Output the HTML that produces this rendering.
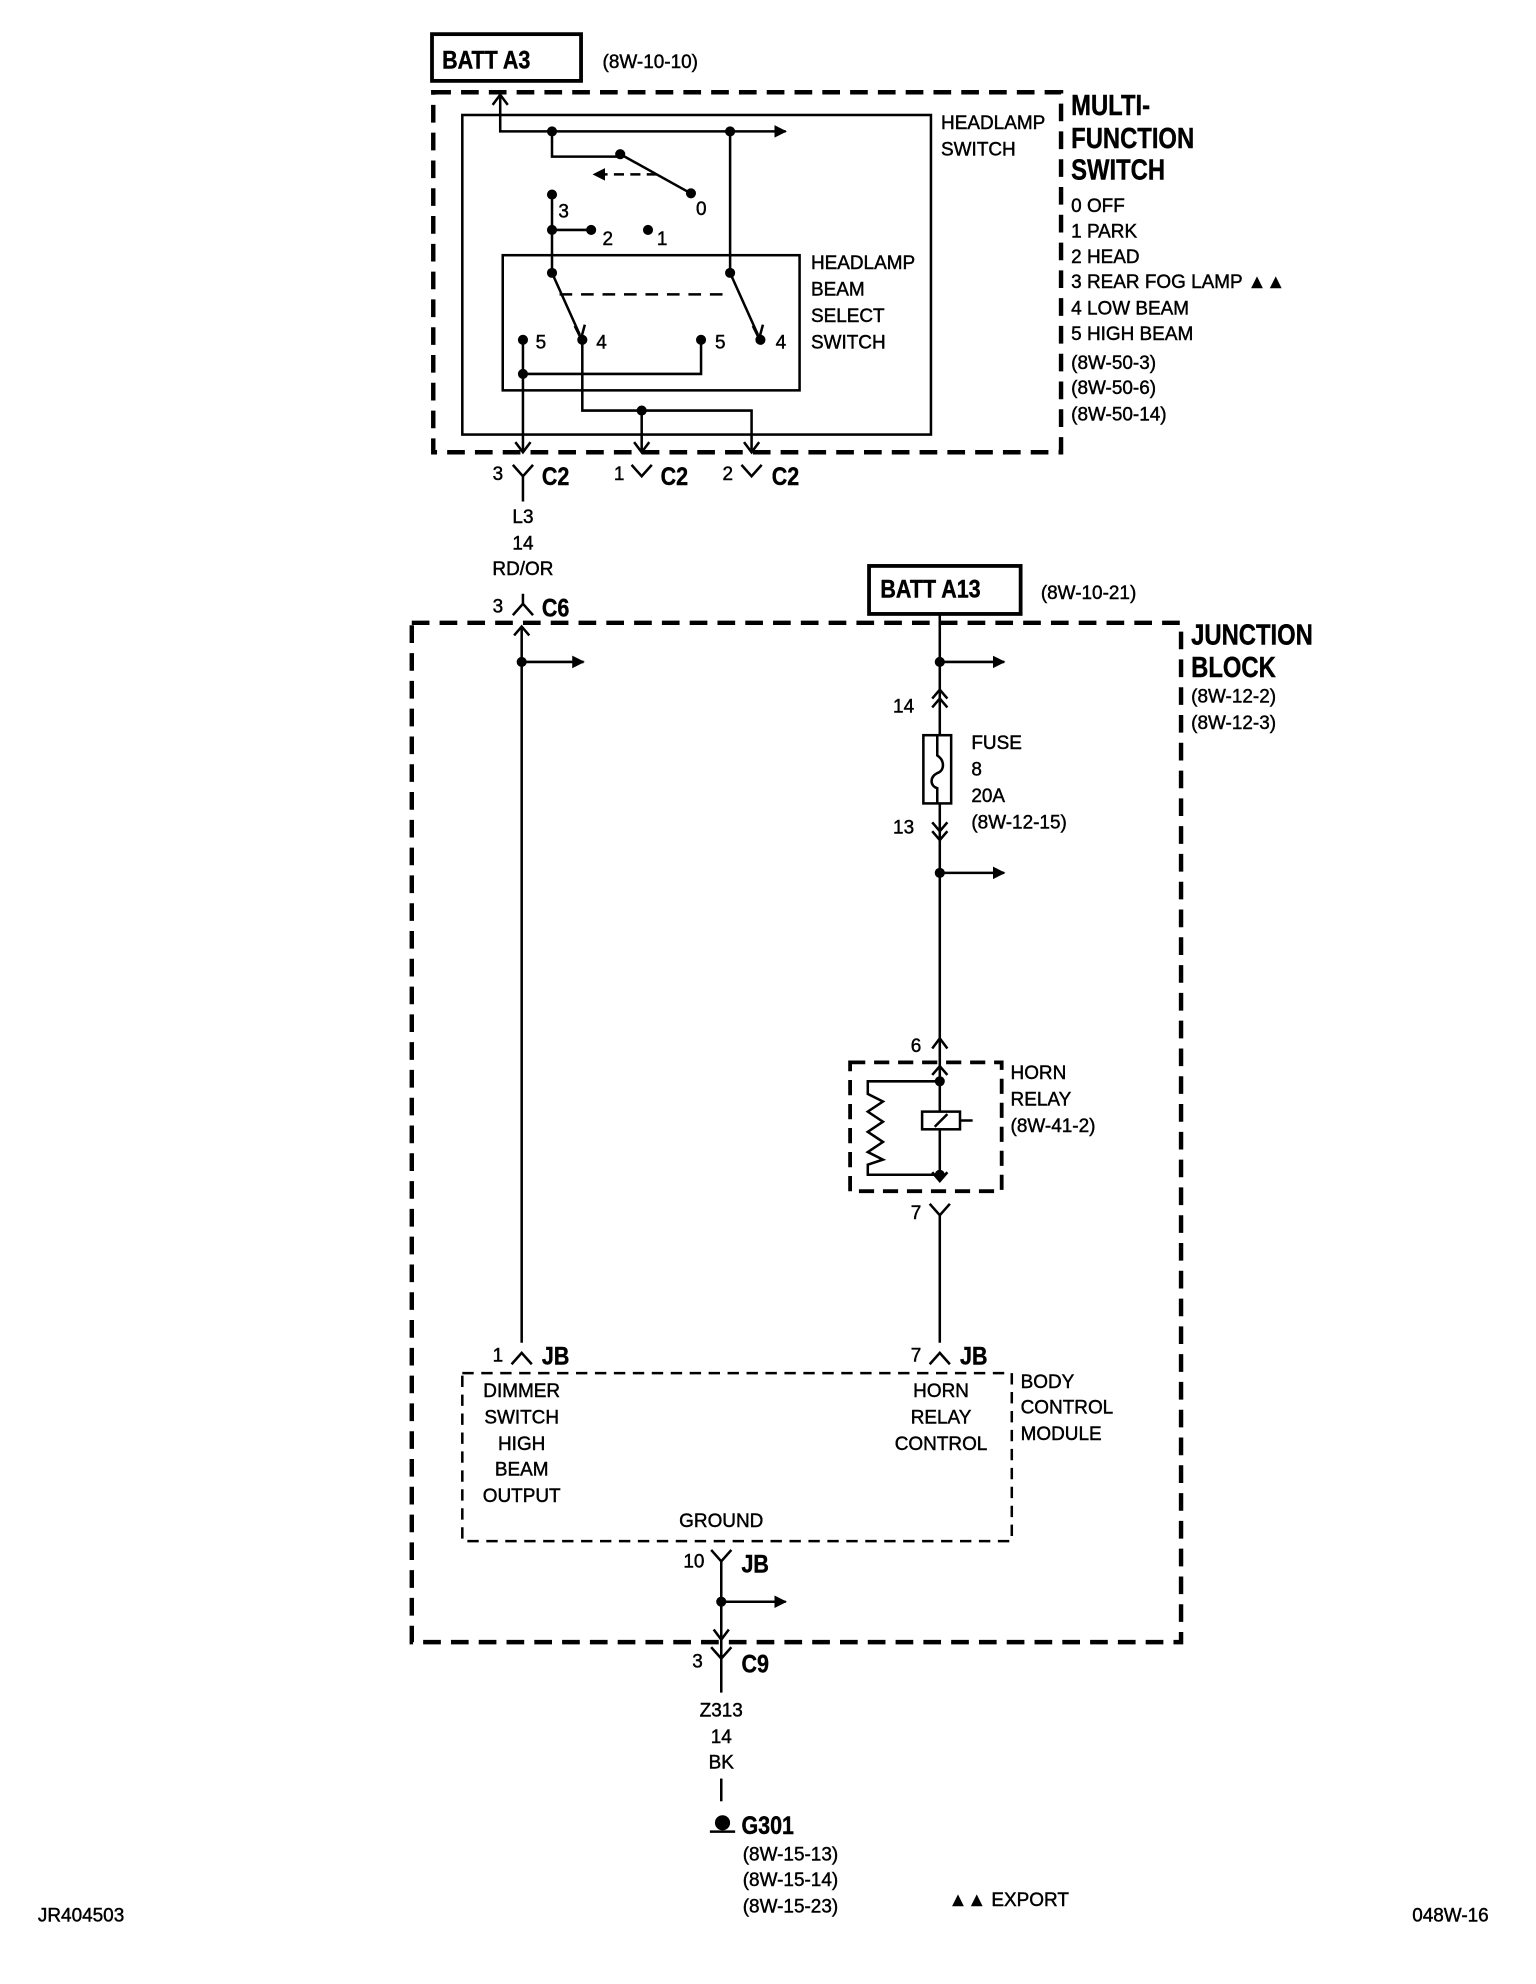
<!DOCTYPE html>
<html><head><meta charset="utf-8"><style>
html,body{margin:0;padding:0;background:#fff;}
svg{display:block;}
text{font-family:"Liberation Sans Narrow","Liberation Sans",sans-serif;fill:#000;font-size:15px;stroke:#000;stroke-width:0.35px;}
text.b{font-weight:bold;font-size:20px;}
text.t{font-weight:bold;font-size:23px;}
</style></head><body>
<svg width="1536" height="1984" viewBox="0 0 1216 1570.6" xmlns="http://www.w3.org/2000/svg">
<defs>
<marker id="ah" markerWidth="10" markerHeight="10" refX="9" refY="5" orient="auto" markerUnits="userSpaceOnUse"><path d="M0,0 L10,5 L0,10 Z" fill="#000"/></marker>
</defs>
<g fill="none" stroke="#000" stroke-width="2">
<rect x="342" y="27" width="118" height="37" stroke-width="3"/>
<rect x="343" y="73" width="497" height="285" stroke-width="3.5" stroke-dasharray="14,8"/>
<rect x="366" y="91" width="371" height="253"/>
<rect x="398" y="202" width="235" height="107"/>
<path d="M396,75 V104 H622" marker-end="url(#ah)"/>
<path d="M390,83 L396,75 L402,83"/>
<path d="M437,104 V124 H491"/>
<path d="M491,122 L545,152"/>
<path d="M520,138 H470" stroke-dasharray="8,5" marker-end="url(#ah)"/>
<path d="M578,104 V216"/>
<path d="M437,154 V216"/>
<path d="M437,182 H468"/>
<path d="M437,216 L459,265"/>
<path d="M578,216 L600,265"/>
<path d="M455,258 L460,268 L463,257"/>
<path d="M596,258 L601,268 L604,257"/>
<path d="M443,233 H578" stroke-dasharray="10,7"/>
<path d="M414,269 V358"/>
<path d="M414,296 H555 V269"/>
<path d="M461,269 V325 H595 V358"/>
<path d="M508,325 V358"/>
<path d="M408,350 L414,358 L420,350"/>
<path d="M502,350 L508,358 L514,350"/>
<path d="M589,350 L595,358 L601,350"/>
<path d="M406,368 L414,377 L422,368 M414,377 V397"/>
<path d="M500,368 L508,377 L516,368"/>
<path d="M587,368 L595,377 L603,368"/>
<path d="M414,470 V478 M406,487 L414,478 L422,487"/>
<rect x="326" y="493" width="609" height="807" stroke-width="3.5" stroke-dasharray="14,8"/>
<path d="M413,496 V1063"/>
<path d="M407,503 L413,496 L419,503"/>
<path d="M413,524 H462" marker-end="url(#ah)"/>
<rect x="688" y="448" width="120" height="38" stroke-width="3"/>
<path d="M744,486 V582 M744,636 V935"/>
<path d="M744,524 H795" marker-end="url(#ah)"/>
<path d="M738,553 L744,546 L750,553 M738,560 L744,553 L750,560"/>
<rect x="731" y="582" width="22" height="54"/>
<path d="M742,582 V598 C748,602 748,610 742,612 C736,615 736,622 742,624 V636"/>
<path d="M738,651 L744,658 L750,651 M738,658 L744,665 L750,658"/>
<path d="M744,691 H795" marker-end="url(#ah)"/>
<path d="M738,830 L744,822 L750,830"/>
<rect x="673" y="841" width="120" height="102" stroke-width="3" stroke-dasharray="12,7"/>
<path d="M738,851 L744,844 L750,851"/>
<path d="M744,856 H687 V866 L699,872 L687,880 L699,888 L687,896 L699,904 L687,912 L699,918 L687,922 V930 H744"/>
<rect x="730" y="880" width="30" height="14" fill="#fff"/>
<path d="M740,892 L750,882 M760,887 H770"/>
<path d="M738,928 L744,935 L750,928"/>
<path d="M736,953 L744,962 L752,953 M744,962 V1063"/>
<path d="M405,1080 L413,1071 L421,1080"/>
<path d="M736,1080 L744,1071 L752,1080"/>
<rect x="366" y="1087" width="435" height="133" stroke-dasharray="9,6"/>
<path d="M563,1227 L571,1236 L579,1227 M571,1236 V1340"/>
<path d="M571,1268 H622" marker-end="url(#ah)"/>
<path d="M565,1290 L571,1298 L577,1290"/>
<path d="M563,1304 L571,1313 L579,1304"/>
<path d="M571,1408 V1426"/>
<path d="M562,1450 H582"/>
</g>
<g fill="#000">
<circle cx="437" cy="104" r="4"/><circle cx="578" cy="104" r="4"/>
<circle cx="491" cy="122" r="4"/><circle cx="547" cy="153" r="4"/>
<circle cx="437" cy="154" r="4"/><circle cx="437" cy="182" r="4"/>
<circle cx="468" cy="182" r="4"/><circle cx="513" cy="182" r="4"/>
<circle cx="437" cy="216" r="4"/><circle cx="578" cy="216" r="4"/>
<circle cx="414" cy="269" r="4"/><circle cx="461" cy="269" r="4"/>
<circle cx="555" cy="269" r="4"/><circle cx="602" cy="269" r="4"/>
<circle cx="414" cy="296" r="4"/><circle cx="508" cy="325" r="4"/>
<circle cx="413" cy="524" r="4"/><circle cx="744" cy="524" r="4"/>
<circle cx="744" cy="691" r="4"/><circle cx="744" cy="856" r="4"/>
<circle cx="744" cy="930" r="4"/><circle cx="571" cy="1268" r="4"/>
<circle cx="572" cy="1443" r="6"/>
</g>
<text transform="translate(350,54) scale(0.85,1)" class="b">BATT A3</text>
<text x="477" y="54">(8W-10-10)</text>
<text x="745" y="102">HEADLAMP</text>
<text x="745" y="123">SWITCH</text>
<text transform="translate(848,91) scale(0.82,1)" class="t">MULTI-</text>
<text transform="translate(848,117) scale(0.82,1)" class="t">FUNCTION</text>
<text transform="translate(848,142) scale(0.82,1)" class="t">SWITCH</text>
<text x="848" y="168">0 OFF</text>
<text x="848" y="188">1 PARK</text>
<text x="848" y="208">2 HEAD</text>
<text x="848" y="228">3 REAR FOG LAMP ▲▲</text>
<text x="848" y="249">4 LOW BEAM</text>
<text x="848" y="269">5 HIGH BEAM</text>
<text x="848" y="292">(8W-50-3)</text>
<text x="848" y="312">(8W-50-6)</text>
<text x="848" y="333">(8W-50-14)</text>
<text x="551" y="170">0</text>
<text x="442" y="172">3</text>
<text x="477" y="194">2</text>
<text x="520" y="194">1</text>
<text x="424" y="276">5</text><text x="472" y="276">4</text>
<text x="566" y="276">5</text><text x="614" y="276">4</text>
<text x="642" y="213">HEADLAMP</text>
<text x="642" y="234">BEAM</text>
<text x="642" y="255">SELECT</text>
<text x="642" y="276">SWITCH</text>
<text x="390" y="380">3</text><text transform="translate(429,384) scale(0.85,1)" class="b">C2</text>
<text x="486" y="380">1</text><text transform="translate(523,384) scale(0.85,1)" class="b">C2</text>
<text x="572" y="380">2</text><text transform="translate(611,384) scale(0.85,1)" class="b">C2</text>
<text x="414" y="414" text-anchor="middle">L3</text>
<text x="414" y="435" text-anchor="middle">14</text>
<text x="414" y="455" text-anchor="middle">RD/OR</text>
<text x="390" y="485">3</text><text transform="translate(429,488) scale(0.85,1)" class="b">C6</text>
<text transform="translate(697,473) scale(0.85,1)" class="b">BATT A13</text>
<text x="824" y="474">(8W-10-21)</text>
<text transform="translate(943,510) scale(0.82,1)" class="t">JUNCTION</text>
<text transform="translate(943,536) scale(0.82,1)" class="t">BLOCK</text>
<text x="943" y="556">(8W-12-2)</text>
<text x="943" y="577">(8W-12-3)</text>
<text x="707" y="564">14</text>
<text x="769" y="593">FUSE</text>
<text x="769" y="614">8</text>
<text x="769" y="635">20A</text>
<text x="769" y="656">(8W-12-15)</text>
<text x="707" y="660">13</text>
<text x="721" y="833">6</text>
<text x="800" y="854">HORN</text>
<text x="800" y="875">RELAY</text>
<text x="800" y="896">(8W-41-2)</text>
<text x="721" y="965">7</text>
<text x="390" y="1078">1</text><text transform="translate(429,1080) scale(0.85,1)" class="b">JB</text>
<text x="721" y="1078">7</text><text transform="translate(760,1080) scale(0.85,1)" class="b">JB</text>
<text x="413" y="1106" text-anchor="middle">DIMMER</text>
<text x="413" y="1127" text-anchor="middle">SWITCH</text>
<text x="413" y="1148" text-anchor="middle">HIGH</text>
<text x="413" y="1168" text-anchor="middle">BEAM</text>
<text x="413" y="1189" text-anchor="middle">OUTPUT</text>
<text x="745" y="1106" text-anchor="middle">HORN</text>
<text x="745" y="1127" text-anchor="middle">RELAY</text>
<text x="745" y="1148" text-anchor="middle">CONTROL</text>
<text x="808" y="1099">BODY</text>
<text x="808" y="1119">CONTROL</text>
<text x="808" y="1140">MODULE</text>
<text x="571" y="1209" text-anchor="middle">GROUND</text>
<text x="541" y="1241">10</text><text transform="translate(587,1245) scale(0.85,1)" class="b">JB</text>
<text x="548" y="1320">3</text><text transform="translate(587,1324) scale(0.85,1)" class="b">C9</text>
<text x="571" y="1359" text-anchor="middle">Z313</text>
<text x="571" y="1380" text-anchor="middle">14</text>
<text x="571" y="1400" text-anchor="middle">BK</text>
<text transform="translate(587,1452) scale(0.85,1)" class="b">G301</text>
<text x="588" y="1473">(8W-15-13)</text>
<text x="588" y="1493">(8W-15-14)</text>
<text x="588" y="1514">(8W-15-23)</text>
<text x="751" y="1509">▲▲ EXPORT</text>
<text x="30" y="1521">JR404503</text>
<text x="1118" y="1521">048W-16</text>
</svg>
</body></html>
